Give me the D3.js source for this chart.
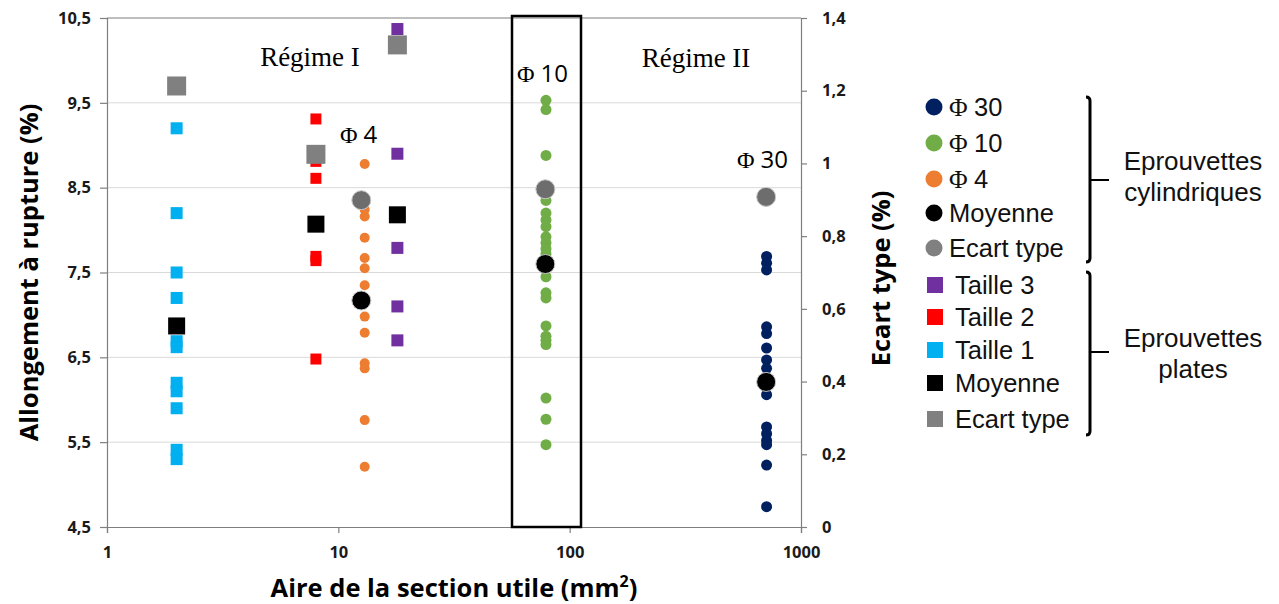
<!DOCTYPE html>
<html>
<head>
<meta charset="utf-8">
<script src="https://cdn.jsdelivr.net/npm/d3@7"></script>
<style>
  body { margin: 0; background: #fff; }
  svg { display: block; }
</style>
</head>
<body>
<div id="chart"></div>
<script>
// --- data ---
const leftTicks = [4.5, 5.5, 6.5, 7.5, 8.5, 9.5, 10.5]
const leftTickLabels = ['4,5', '5,5', '6,5', '7,5', '8,5', '9,5', '10,5']
const rightTicks = [0, 0.2, 0.4, 0.6, 0.8, 1, 1.2, 1.4]
const rightTickLabels = ['0', '0,2', '0,4', '0,6', '0,8', '1', '1,2', '1,4']
const xTicks = [1, 10, 100, 1000]

// eprouvettes plates (aire en mm2)
const taille1Area = 2
const taille2Area = 8
const taille3Area = 18
const taille1 = [9.2, 8.2, 7.5, 7.2, 6.69, 6.62, 6.2, 6.1, 5.9, 5.41, 5.3]
const taille2 = [9.31, 8.81, 8.61, 7.69, 7.64, 6.48]
const taille3 = [10.37, 8.9, 7.79, 7.1, 6.7]
const platesMoyenne = [6.87, 8.07, 8.18]
const platesEcart = [1.213, 1.025, 1.326]

// eprouvettes cylindriques
const phi4Area = 13
const phi10Area = 79
const phi30Area = 710
const cylMeanAreas = [12.57, 78.5, 706.9]
const phi4 = [8.78, 8.24, 8.16, 7.91, 7.67, 7.55, 7.35, 6.98, 6.79, 6.43, 6.37, 5.76, 5.21]
const phi10 = [9.53, 9.42, 8.88, 8.35, 8.2, 8.12, 8.04, 7.92, 7.85, 7.78, 7.72, 7.66, 7.55,
  7.45, 7.26, 7.2, 6.87, 6.75, 6.7, 6.65, 6.02, 5.77, 5.47]
const phi30 = [7.69, 7.61, 7.53, 6.86, 6.78, 6.61, 6.47, 6.37, 6.06, 5.68, 5.6, 5.52, 5.47, 5.23, 4.74]
const cylMoyenne = [7.17, 7.6, 6.21]
const cylEcart = [0.899, 0.929, 0.908]

const colors = {
  phi30: '#002060', phi10: '#70AD47', phi4: '#ED7D31',
  taille3: '#7030A0', taille2: '#FF0000', taille1: '#00B0F0',
  grayRound: '#6d6d6d', graySquare: '#808080'
}

const width = 1279
const height = 604
const svg = d3.select('#chart').append('svg').attr('width', width).attr('height', height)

const margin = { top: 18, left: 107, right: 801, bottom: 527 }

//schalen
const x = d3.scaleLog().domain([1, 1000]).range([margin.left, margin.right])
const y = d3.scaleLinear().domain([4.5, 10.5]).range([margin.bottom, margin.top])
const y2 = d3.scaleLinear().domain([0, 1.4]).range([margin.bottom, margin.top])

const tickFont = "'Open Sans', sans-serif"

// gridlines
svg.append('g').selectAll('line')
  .data(leftTicks.slice(1, -1))
  .enter().append('line')
  .attr('x1', margin.left).attr('x2', margin.right)
  .attr('y1', d => y(d)).attr('y2', d => y(d))
  .attr('stroke', '#d9d9d9').attr('stroke-width', 1)
svg.append('line')
  .attr('x1', margin.left).attr('x2', margin.right)
  .attr('y1', y(10.5)).attr('y2', y(10.5))
  .attr('stroke', '#7f7f7f').attr('stroke-width', 1.2)

// left axis
const yAxis = d3.axisLeft(y).tickValues(leftTicks)
  .tickFormat((d, i) => leftTickLabels[i]).tickSize(7).tickPadding(9)
const yAxisG = svg.append('g').attr('transform', `translate(${margin.left},0)`).call(yAxis)

// right axis
const y2Axis = d3.axisRight(y2).tickValues(rightTicks)
  .tickFormat((d, i) => rightTickLabels[i]).tickSize(6).tickPadding(15)
const y2AxisG = svg.append('g').attr('transform', `translate(${margin.right},0)`).call(y2Axis)

// bottom axis
const xAxis = d3.axisBottom(x).tickValues(xTicks).tickFormat(d3.format('d')).tickSize(6).tickPadding(13)
const xAxisG = svg.append('g').attr('transform', `translate(0,${margin.bottom})`).call(xAxis)

;[yAxisG, y2AxisG, xAxisG].forEach(g => {
  g.selectAll('.domain').attr('stroke', '#7f7f7f').attr('stroke-width', 1.2)
  g.selectAll('.tick line').attr('stroke', '#7f7f7f').attr('stroke-width', 1.2)
  g.selectAll('.tick text')
    .attr('font-family', tickFont).attr('font-weight', 700)
    .attr('font-size', 16.5).attr('fill', '#1a1a1a')
})

// axis titles
svg.append('text')
  .attr('transform', `translate(38,${(margin.top + margin.bottom) / 2}) rotate(-90)`)
  .attr('text-anchor', 'middle')
  .attr('font-family', tickFont).attr('font-weight', 700).attr('font-size', 25.5)
  .text('Allongement à rupture (%)')

svg.append('text')
  .attr('transform', `translate(890,${(margin.top + margin.bottom) / 2 + 6}) rotate(-90)`)
  .attr('text-anchor', 'middle')
  .attr('font-family', tickFont).attr('font-weight', 700).attr('font-size', 25.5)
  .text('Ecart type (%)')

const xTitle = svg.append('text')
  .attr('x', 454).attr('y', 597)
  .attr('text-anchor', 'middle')
  .attr('font-family', tickFont).attr('font-weight', 700).attr('font-size', 25.5)
xTitle.append('tspan').text('Aire de la section utile (mm')
xTitle.append('tspan').attr('font-size', 16).attr('dy', -10).text('2')
xTitle.append('tspan').attr('dy', 10).text(')')

// kader rond Φ 10
svg.append('rect')
  .attr('x', 512).attr('y', 16)
  .attr('width', 69).attr('height', margin.bottom - 16)
  .attr('fill', 'none').attr('stroke', '#000').attr('stroke-width', 2.5)

// annotations
const serif = "'Liberation Serif', 'Times New Roman', serif"
svg.append('text').attr('x', 310).attr('y', 66).attr('text-anchor', 'middle')
  .attr('font-family', serif).attr('font-size', 27).text('Régime I')
svg.append('text').attr('x', 696).attr('y', 67).attr('text-anchor', 'middle')
  .attr('font-family', serif).attr('font-size', 27).text('Régime II')

function phiLabel(px, py, num) {
  const t = svg.append('text').attr('x', px).attr('y', py).attr('font-size', 24)
  t.append('tspan').attr('font-family', serif).text('Φ ')
  t.append('tspan').attr('font-family', tickFont).text(num)
}
phiLabel(517, 82, '10')
phiLabel(340, 143, '4')
phiLabel(737, 168, '30')

// markers
function squares(data, area, color, size, scale) {
  svg.append('g').selectAll('rect')
    .data(data)
    .enter().append('rect')
    .attr('x', d => x(area) - size / 2)
    .attr('y', d => scale(d) - size / 2)
    .attr('width', size).attr('height', size)
    .attr('fill', color)
}
function squaresAt(data, areas, color, size, scale) {
  svg.append('g').selectAll('rect')
    .data(data)
    .enter().append('rect')
    .attr('x', (d, i) => x(areas[i]) - size / 2)
    .attr('y', d => scale(d) - size / 2)
    .attr('width', size).attr('height', size)
    .attr('fill', color)
}
function circles(data, area, color, r) {
  svg.append('g').selectAll('circle')
    .data(data)
    .enter().append('circle')
    .attr('cx', x(area)).attr('cy', d => y(d))
    .attr('r', r).attr('fill', color)
}
function circlesAt(data, areas, color, r, scale) {
  svg.append('g').selectAll('circle')
    .data(data)
    .enter().append('circle')
    .attr('cx', (d, i) => x(areas[i])).attr('cy', d => scale(d))
    .attr('r', r).attr('fill', color)
    .attr('stroke', '#c8c8c8').attr('stroke-width', 1)
}

squares(taille1, taille1Area, colors.taille1, 12, y)
squares(taille2, taille2Area, colors.taille2, 11, y)
squares(taille3, taille3Area, colors.taille3, 12, y)
circles(phi4, phi4Area, colors.phi4, 5)
circles(phi10, phi10Area, colors.phi10, 5.5)
circles(phi30, phi30Area, colors.phi30, 5.5)

const plateAreas = [taille1Area, taille2Area, taille3Area]
squaresAt(platesMoyenne, plateAreas, '#000', 17, y)
squaresAt(platesEcart, plateAreas, colors.graySquare, 19, y2)
circlesAt(cylMoyenne, cylMeanAreas, '#000', 9.5, y)
circlesAt(cylEcart, cylMeanAreas, colors.grayRound, 9.5, y2)

// legend
const legendFont = "'Liberation Sans', Arial, sans-serif"
const legendItems = [
  { shape: 'circle', color: colors.phi30, phi: true, label: '30', y: 107 },
  { shape: 'circle', color: colors.phi10, phi: true, label: '10', y: 143 },
  { shape: 'circle', color: colors.phi4, phi: true, label: '4', y: 179 },
  { shape: 'circle', color: '#000', label: 'Moyenne', y: 213 },
  { shape: 'circle', color: '#808080', label: 'Ecart type', y: 248 },
  { shape: 'square', color: colors.taille3, label: 'Taille 3', y: 285 },
  { shape: 'square', color: colors.taille2, label: 'Taille 2', y: 317 },
  { shape: 'square', color: colors.taille1, label: 'Taille 1', y: 350 },
  { shape: 'square', color: '#000', label: 'Moyenne', y: 383 },
  { shape: 'square', color: '#808080', label: 'Ecart type', y: 419 }
]
const legend = svg.append('g')
legendItems.forEach(item => {
  if (item.shape === 'circle') {
    legend.append('circle').attr('cx', 934).attr('cy', item.y).attr('r', 8.5).attr('fill', item.color)
  } else {
    legend.append('rect').attr('x', 927).attr('y', item.y - 8).attr('width', 16).attr('height', 16).attr('fill', item.color)
  }
  const t = legend.append('text')
    .attr('x', item.shape === 'circle' ? 949 : 955)
    .attr('y', item.y + 9)
    .attr('font-family', legendFont).attr('font-size', 25.5).attr('fill', '#111')
  if (item.phi) {
    t.append('tspan').attr('font-family', serif).text('Φ ')
    t.append('tspan').text(item.label)
  } else {
    t.text(item.label)
  }
})

// accolades
function bracket(top, bottom, mid) {
  svg.append('path')
    .attr('d', `M1086,${top} Q1090,${top} 1090,${top + 4} L1090,${bottom - 4} Q1090,${bottom} 1086,${bottom}`)
    .attr('fill', 'none').attr('stroke', '#000').attr('stroke-width', 3)
  svg.append('line')
    .attr('x1', 1090).attr('x2', 1109).attr('y1', mid).attr('y2', mid)
    .attr('stroke', '#000').attr('stroke-width', 2)
}
bracket(97, 262, 180)
bracket(272, 435, 352)

function groupLabel(lines, ys) {
  lines.forEach((l, i) => {
    svg.append('text').attr('x', 1193).attr('y', ys[i]).attr('text-anchor', 'middle')
      .attr('font-family', legendFont).attr('font-size', 26).attr('fill', '#111').text(l)
  })
}
groupLabel(['Eprouvettes', 'cylindriques'], [170, 201])
groupLabel(['Eprouvettes', 'plates'], [347, 378])
</script>
</body>
</html>
